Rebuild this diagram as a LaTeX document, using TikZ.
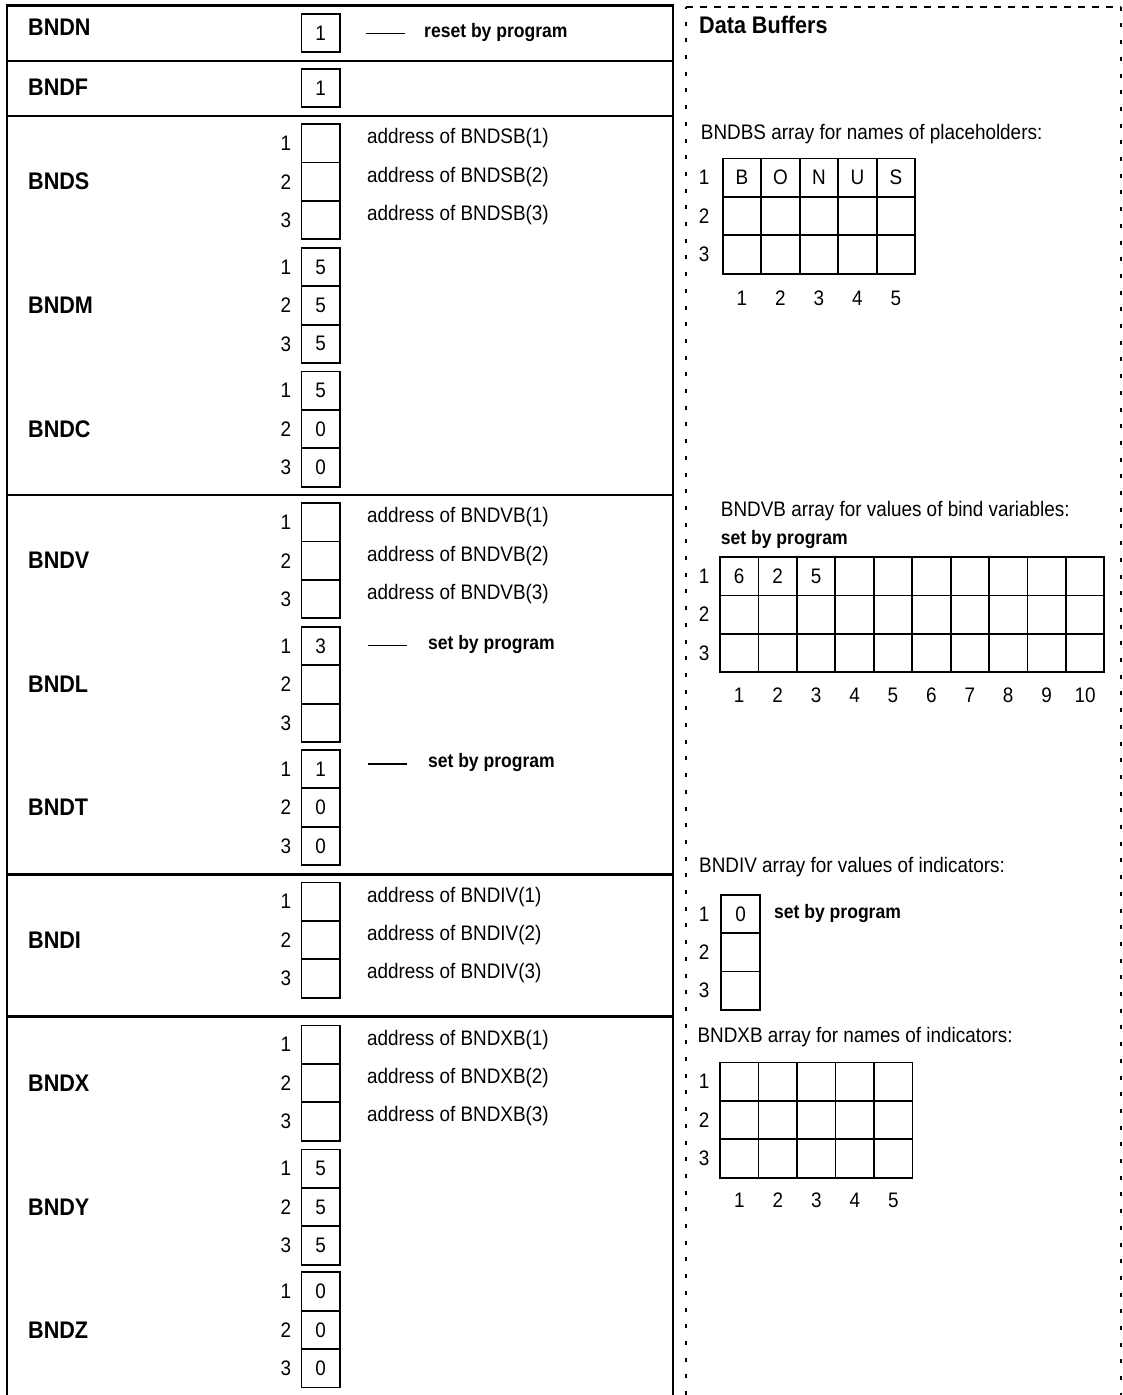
\documentclass[tikz,border=0pt]{standalone}
\usepackage{fontspec}
\setmainfont{Liberation Sans}[FakeStretch=0.9]

\newcommand{\txtsize}{\fontsize{21}{25}\selectfont}
\newcommand{\namesize}{\fontsize{24}{28}\selectfont\bfseries}
\newcommand{\notesize}{\fontsize{19.5}{23}\selectfont\bfseries}

\tikzset{
    cell/.style={draw, line width=1.8pt, minimum width=38.5pt, minimum height=38.4pt, inner sep=0pt, font=\txtsize},
    idx/.style={inner sep=0pt, font=\txtsize},
    grpname/.style={anchor=west, inner sep=0pt, font=\namesize},
    caption/.style={anchor=west, inner sep=0pt, font=\txtsize},
    note/.style={anchor=west, inner sep=0pt, font=\notesize},
    panel/.style={line width=2.2pt},
    bufpanel/.style={line width=1.8pt, dash pattern=on 4pt off 12.7pt},
    dashline/.style={line width=1.6pt},
}

\begin{document}
\begin{tikzpicture}[x=1pt, y=-1pt]
    \useasboundingbox (0,0) rectangle (1123,1395);

    % descriptor block
    \draw[panel] (6.7,1395) -- (6.7,5.4) -- (672.8,5.4) -- (672.8,1395);
    \foreach \sep in {60.7,116,494.6,874.5,1016.4} {
        \draw[panel] (6.7,\sep) -- (672.8,\sep);
    }

    \node[grpname] (BNDN) at (28,27.7) {BNDN};
    \node[cell] (BNDN-1) at (320.7,33) {1};
    \node[note] (BNDN-note) at (424,32) {reset by program};
    \coordinate (BNDN-dash) at (366,33.5);
    \draw[dashline, shorten >=19pt] (BNDN-dash) -- (BNDN-dash -| BNDN-note.west);

    \node[grpname] (BNDF) at (28,87) {BNDF};
    \node[cell] (BNDF-1) at (320.7,88) {1};

    \foreach \grp/\top/\va/\vb/\vc in {BNDS/124.1/{}/{}/{}, BNDM/247.8/5/5/5, BNDC/371.4/5/0/0,
                                       BNDV/503.1/{}/{}/{}, BNDL/626.8/3/{}/{}, BNDT/749.9/1/0/0,
                                       BNDI/882.5/{}/{}/{}, BNDX/1025.4/{}/{}/{}, BNDY/1149.5/5/5/5,
                                       BNDZ/1272.2/0/0/0} {
        \begin{scope}[shift={(0,\top)}]
            \node[grpname] (\grp) at (28,57.6) {\grp};
            \foreach \r/\v in {1/\va, 2/\vb, 3/\vc} {
                \node[cell] (\grp-\r) at (320.7,{38.4*\r-19.2}) {\v};
                \node[idx] (\grp-i\r) at (286,{38.4*\r-19.2}) {\r};
            }
        \end{scope}
    }

    % addresses of the buffers
    \foreach \grp/\buf in {BNDS/BNDSB, BNDV/BNDVB, BNDI/BNDIV, BNDX/BNDXB} {
        \foreach \r in {1,2,3} {
            \node[caption] (\grp-addr\r) at ([xshift=26pt, yshift=5pt]\grp-\r.east) {address of \buf(\r)};
        }
    }

    \foreach \grp/\dy in {BNDL/2, BNDT/6.5} {
        \node[note] (\grp-note) at ([xshift=87pt, yshift=\dy pt]\grp-1.east) {set by program};
        \coordinate (\grp-dash) at ([xshift=27pt, yshift=\dy pt - 1.5pt]\grp-1.east);
        \draw[dashline, shorten >=21pt] (\grp-dash) -- (\grp-dash -| \grp-note.west);
    }

    % data buffers
    \draw[bufpanel] (686,1395) -- (686,6.7);
    \draw[bufpanel] (1120.7,6.7) -- (1120.7,1395);
    \draw[bufpanel, dash pattern=on 7pt off 7pt] (686,6.7) -- (1120.7,6.7);
    \node[grpname] (buffers) at (699,24.5) {Data Buffers};

    % BNDBS
    \node[caption] (bs-title) at (700.7,134) {BNDBS array for names of placeholders:};
    \foreach \c/\ch in {1/B, 2/O, 3/N, 4/U, 5/S} {
        \node[cell] (bs-1-\c) at ({722.7+38.5*\c-19.25},177.7) {\ch};
        \node[idx] (bs-c\c) at ({722.7+38.5*\c-19.25},298) {\c};
    }
    \foreach \r in {2,3} {
        \foreach \c in {1,...,5} {
            \node[cell] (bs-\r-\c) at ({722.7+38.5*\c-19.25},{158.5+38.4*\r-19.2}) {};
        }
    }
    \foreach \r in {1,2,3} {
        \node[idx] (bs-r\r) at (704,{158.5+38.4*\r-19.2}) {\r};
    }

    % BNDVB
    \node[caption] (vb-title) at (720.7,511) {BNDVB array for values of bind variables:};
    \node[note] (vb-note) at (720.7,539) {set by program};
    \foreach \c/\v in {1/6, 2/2, 3/5, 4/{}, 5/{}, 6/{}, 7/{}, 8/{}, 9/{}, 10/{}} {
        \node[cell, minimum width=38.43pt] (vb-1-\c) at ({720+38.43*\c-19.2},576.2) {\v};
        \node[idx] (vb-c\c) at ({720+38.43*\c-19.2},695) {\c};
    }
    \foreach \r in {2,3} {
        \foreach \c in {1,...,10} {
            \node[cell, minimum width=38.43pt] (vb-\r-\c) at ({720+38.43*\c-19.2},{557+38.4*\r-19.2}) {};
        }
    }
    \foreach \r in {1,2,3} {
        \node[idx] (vb-r\r) at (704,{557+38.4*\r-19.2}) {\r};
    }

    % BNDIV
    \node[caption] (iv-title) at (699,867) {BNDIV array for values of indicators:};
    \foreach \r/\v in {1/0, 2/{}, 3/{}} {
        \node[cell, minimum width=38.7pt] (iv-\r) at (740.7,{894.6+38.4*\r-19.2}) {\v};
        \node[idx] (iv-r\r) at (704,{894.6+38.4*\r-19.2}) {\r};
    }
    \node[note] (iv-note) at ([xshift=13pt]iv-1.east) {set by program};

    % BNDXB
    \node[caption] (xb-title) at (697.3,1037.4) {BNDXB array for names of indicators:};
    \foreach \r in {1,2,3} {
        \node[idx] (xb-r\r) at (704,{1062.4+38.4*\r-19.2}) {\r};
        \foreach \c in {1,...,5} {
            \node[cell] (xb-\r-\c) at ({720+38.5*\c-19.25},{1062.4+38.4*\r-19.2}) {};
        }
    }
    \foreach \c in {1,...,5} {
        \node[idx] (xb-c\c) at ({720+38.5*\c-19.25},1200.4) {\c};
    }
\end{tikzpicture}
\end{document}
